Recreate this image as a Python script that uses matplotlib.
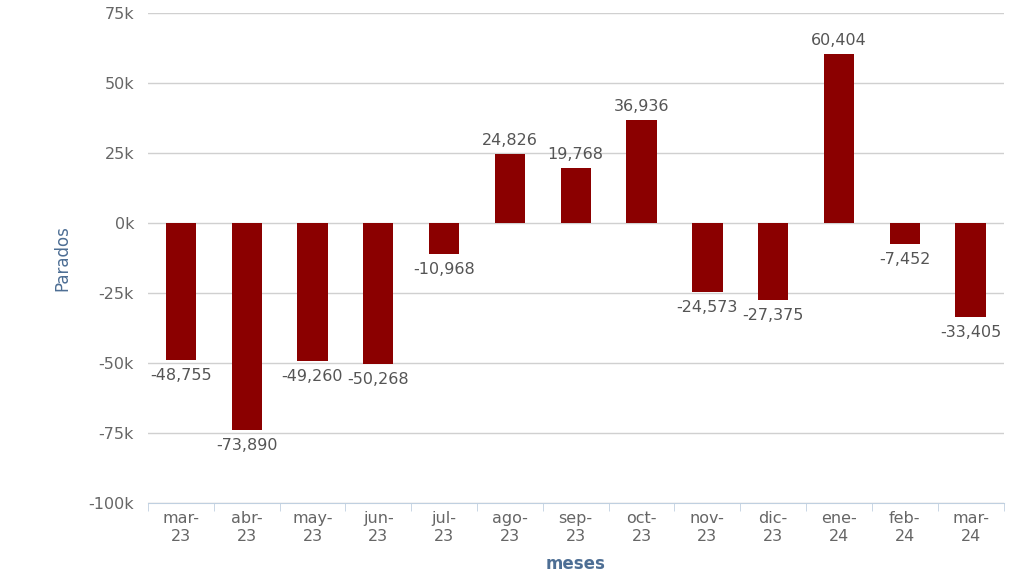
import numpy as np
import matplotlib.pyplot as plt
from matplotlib.ticker import FixedLocator

meses = ['mar-\n23', 'abr-\n23', 'may-\n23', 'jun-\n23', 'jul-\n23', 'ago-\n23', 'sep-\n23',
         'oct-\n23', 'nov-\n23', 'dic-\n23', 'ene-\n24', 'feb-\n24', 'mar-\n24']
parados = [-48755, -73890, -49260, -50268, -10968, 24826, 19768,
           36936, -24573, -27375, 60404, -7452, -33405]
yticks = [-100000, -75000, -50000, -25000, 0, 25000, 50000, 75000]

fig = plt.figure(figsize=(10.24, 5.76), dpi=100)
ax = fig.add_axes([0.1445, 0.1267, 0.8355, 0.8507])

x = np.arange(len(meses))
ax.bar(x, parados, width=0.46, color='#8b0000', zorder=3)

for xi, v in zip(x, parados):
    txt = f'{v:,}'
    if v >= 0:
        ax.annotate(txt, (xi, v), xytext=(0, 4), textcoords='offset points',
                    ha='center', va='bottom', fontsize=11.5, color='#555555')
    else:
        ax.annotate(txt, (xi, v), xytext=(0, -6), textcoords='offset points',
                    ha='center', va='top', fontsize=11.5, color='#555555')

ax.set_xlim(-0.5, len(meses) - 0.5)
ax.set_ylim(-100000, 75000)
ax.set_yticks(yticks)
ax.set_yticklabels([f'{int(t/1000)}k' for t in yticks])
ax.grid(axis='y', color='#d0d0d0', linewidth=1, zorder=0)

ax.set_xticks(x)
ax.set_xticklabels(meses)
ax.xaxis.set_minor_locator(FixedLocator(np.arange(-0.5, len(meses), 1)))
ax.tick_params(axis='x', which='major', length=0, pad=6, labelsize=11.5, labelcolor='#666666')
ax.tick_params(axis='x', which='minor', length=6, color='#c0d0e0')
ax.tick_params(axis='y', length=0, pad=10, labelsize=11.5, labelcolor='#666666')

for s in ['top', 'right', 'left']:
    ax.spines[s].set_visible(False)
ax.spines['bottom'].set_color('#c0d0e0')

ax.set_xlabel('meses', color='#4d6e94', fontsize=12, fontweight='bold', labelpad=8)
ax.set_ylabel('Parados', color='#4d6e94', fontsize=12, labelpad=12)

fig.savefig('out.png', dpi=100)
